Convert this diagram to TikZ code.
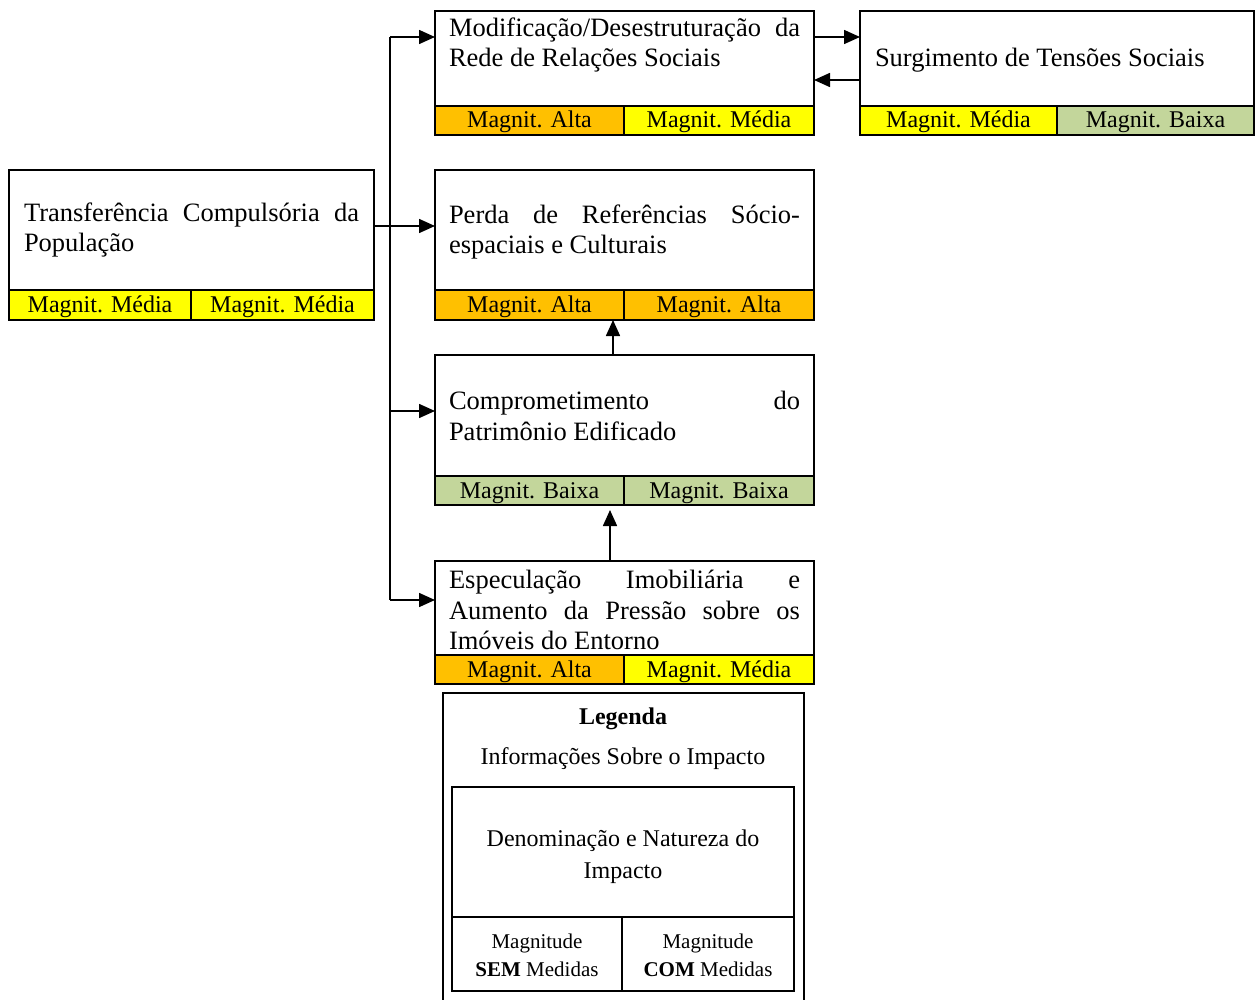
\documentclass[tikz,border=0pt]{standalone}
\usepackage{fontspec}
\setmainfont{Liberation Serif}
\usetikzlibrary{arrows.meta,calc}
\definecolor{alta}{HTML}{FFC000}
\definecolor{media}{HTML}{FFFF00}
\definecolor{baixa}{HTML}{C3D69B}
\newcommand{\bodyfont}{\fontsize{26.5}{30.5}\selectfont}
\begin{document}
\begin{tikzpicture}[x=1pt,y=-1pt,
  frame/.style={draw, line width=2pt, inner sep=0pt, outer sep=0pt},
  band/.style={draw, line width=2pt, inner sep=0pt, outer sep=0pt,
    minimum height=29pt, text height=20pt, text depth=5pt,
    font=\fontsize{24}{28}\selectfont},
  body/.style={inner sep=0pt, text width=#1, align=justify, font=\bodyfont},
  legtxt/.style={inner sep=0pt, align=center, font=\fontsize{24}{32}\selectfont},
  legsmall/.style={inner sep=0pt, align=center, font=\fontsize{21}{28}\selectfont},
  conn/.style={line width=1.6pt},
  arr/.style={line width=1.6pt, -{Triangle[length=16pt,width=14pt]}}]
\clip (0,0) rectangle (1258,1000);
\fill[white] (0,0) rectangle (1258,1000);

% --- impact: Modificação/Desestruturação da Rede de Relações Sociais
\node[frame, minimum width=379pt, minimum height=95pt] (modif) at (624.5,58.5) {};
\node[band, fill=alta, minimum width=189pt] (modifA) at (529.5,120.5) {Magnit. Alta};
\node[band, fill=media, minimum width=190pt] (modifB) at (719,120.5) {Magnit. Média};
\node[body=351pt] (modifT) at (624.5,45) {Modificação/Desestruturação da\linebreak Rede de Relações Sociais};

% --- impact: Surgimento de Tensões Sociais
\node[frame, minimum width=394pt, minimum height=95pt] (surg) at (1057,58.5) {};
\node[band, fill=media, minimum width=197pt] (surgA) at (958.5,120.5) {Magnit. Média};
\node[band, fill=baixa, minimum width=197pt] (surgB) at (1155.5,120.5) {Magnit. Baixa};
\node[body=364pt] (surgT) at (1057,60) {Surgimento de Tensões Sociais};

% --- impact: Transferência Compulsória da População
\node[frame, minimum width=365pt, minimum height=120pt] (transf) at (191.5,230) {};
\node[band, fill=media, minimum width=182pt, minimum height=30pt] (transfA) at (100,305) {Magnit. Média};
\node[band, fill=media, minimum width=183pt, minimum height=30pt] (transfB) at (282.5,305) {Magnit. Média};
\node[body=335pt] (transfT) at (191.5,230) {Transferência Compulsória da\linebreak População};

% --- impact: Perda de Referências Sócio-espaciais e Culturais
\node[frame, minimum width=379pt, minimum height=120pt] (perda) at (624.5,230) {};
\node[band, fill=alta, minimum width=189pt, minimum height=30pt] (perdaA) at (529.5,305) {Magnit. Alta};
\node[band, fill=alta, minimum width=190pt, minimum height=30pt] (perdaB) at (719,305) {Magnit. Alta};
\node[body=351pt] (perdaT) at (624.5,232) {Perda de Referências Sócio-\linebreak{}espaciais e Culturais};

% --- impact: Comprometimento do Patrimônio Edificado
\node[frame, minimum width=379pt, minimum height=121pt] (compr) at (624.5,415.5) {};
\node[band, fill=baixa, minimum width=189pt] (comprA) at (529.5,490.5) {Magnit. Baixa};
\node[band, fill=baixa, minimum width=190pt] (comprB) at (719,490.5) {Magnit. Baixa};
\node[body=351pt] (comprT) at (624.5,416) {Comprometimento do\linebreak Patrimônio Edificado};

% --- impact: Especulação Imobiliária e Aumento da Pressão sobre os Imóveis do Entorno
\node[frame, minimum width=379pt, minimum height=94pt] (espec) at (624.5,608) {};
\node[band, fill=alta, minimum width=189pt] (especA) at (529.5,669.5) {Magnit. Alta};
\node[band, fill=media, minimum width=190pt] (especB) at (719,669.5) {Magnit. Média};
\node[body=351pt] (especT) at (624.5,610) {Especulação Imobiliária e\linebreak Aumento da Pressão sobre os\linebreak Imóveis do Entorno};

% --- connectors
\coordinate (t1) at (390,37);
\coordinate (t2) at (390,411);
\coordinate (t3) at (390,600);
\draw[conn] (t1) -- (t3);
\draw[arr] (t1) -- (t1 -| modif.west);
\draw[arr] (t2) -- (t2 -| compr.west);
\draw[arr] (t3) -- (t3 -| espec.west);
\coordinate (tr) at ($(transf.east)+(0,-4)$);
\draw[arr] (tr) -- (tr -| perda.west);

\coordinate (ms) at ($(modif.north east)+(0,26)$);
\coordinate (sm) at ($(modif.north east)+(0,69)$);
\draw[arr] (ms) -- (ms -| surg.west);
\draw[arr] (sm -| surg.west) -- (sm);

\coordinate (cp) at ($(compr.north)+(-11.5,0)$);
\draw[arr] (cp) -- (cp |- perdaA.south);
\coordinate (ec) at ($(espec.north)+(-14.5,0)$);
\draw[arr] (ec) -- ($(ec |- comprA.south)+(0,5)$);

% --- legend
\node[frame, minimum width=361pt, minimum height=330pt] (legend) at (623.5,858) {};
\node[legtxt, font=\fontsize{24}{32}\selectfont\bfseries] (legT) at (623,719) {Legenda};
\node[legtxt] (legI) at (623,759) {Informações Sobre o Impacto};
\node[frame, line width=1.8pt, minimum width=342pt, minimum height=130pt] (legD) at (623,852) {};
\node[legtxt] (legDT) at (623,857) {Denominação e Natureza do\\Impacto};
\node[frame, line width=1.8pt, minimum width=170pt, minimum height=74pt] (legS) at (537,954) {};
\node[frame, line width=1.8pt, minimum width=172pt, minimum height=74pt] (legC) at (708,954) {};
\node[legsmall] (legST) at (537,955) {Magnitude\\\textbf{SEM} Medidas};
\node[legsmall] (legCT) at (708,955) {Magnitude\\\textbf{COM} Medidas};
\end{tikzpicture}
\end{document}
